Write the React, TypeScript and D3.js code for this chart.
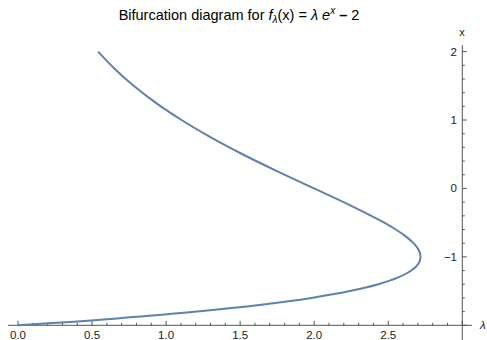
import React from "react";
import * as d3 from "d3";

const xValues = [-2, -1.95, -1.9, -1.8, -1.7, -1.6, -1.5, -1.4, -1.3, -1.2, -1.1, -1, -0.9, -0.8, -0.7, -0.6, -0.5, -0.25, 0, 0.25, 0.5, 0.75, 1, 1.25, 1.5, 1.75, 2];
const lambdaValues = [0, 0.351, 0.669, 1.21, 1.642, 1.981, 2.241, 2.433, 2.568, 2.656, 2.704, 2.718, 2.706, 2.671, 2.618, 2.551, 2.473, 2.247, 2.0, 1.752, 1.516, 1.299, 1.104, 0.931, 0.781, 0.652, 0.541];
const lambdaTicks = [0, 0.5, 1, 1.5, 2, 2.5];
const xTicks = [-1, 0, 1, 2];

const W = 487, H = 340;

export default function App() {
  const sx = d3.scaleLinear().domain([0, 3]).range([18, 462.3]);
  const sy = d3.scaleLinear().domain([-2, 2]).range([325.3, 51.6]);
  const pts = xValues.map((x, i) => [lambdaValues[i], x] as [number, number]);
  const line = d3.line<[number, number]>().x(d => sx(d[0])).y(d => sy(d[1])).curve(d3.curveCatmullRom);
  const minorL = d3.range(0, 3.001, 0.1).map(v => +v.toFixed(2));
  const minorX = d3.range(-2, 2.001, 0.2).map(v => +v.toFixed(2));
  const axisColor = "#555";
  const font = "'Liberation Sans', Arial, sans-serif";
  const ax = sx(3);
  const ay = sy(-2);
  return (
    <svg width={W} height={H} style={{ position: "absolute", left: 0, top: 0 }} fontFamily={font}>
      <text x={239} y={20} textAnchor="middle" fontSize={14.5} fill="#000">
        Bifurcation diagram for <tspan fontStyle="italic">f</tspan>
        <tspan fontStyle="italic" fontSize={10} dy={3}>λ</tspan>
        <tspan dy={-3}>(x) = </tspan>
        <tspan fontStyle="italic">λ e</tspan>
        <tspan fontStyle="italic" fontSize={10} dy={-6}>x</tspan>
        <tspan dy={6}> </tspan>
        <tspan fontWeight="bold">–</tspan>
        <tspan> 2</tspan>
      </text>
      {/* horizontal axis */}
      <line x1={8} x2={472} y1={ay} y2={ay} stroke={axisColor} strokeWidth={1} />
      {minorL.map((v, i) => {
        const major = Math.abs(v * 2 - Math.round(v * 2)) < 1e-6;
        return <line key={"ml" + i} x1={sx(v)} x2={sx(v)} y1={ay} y2={ay - (major ? 4.5 : 2.5)} stroke={axisColor} strokeWidth={1} />;
      })}
      {lambdaTicks.map(v => (
        <text key={"lt" + v} x={sx(v)} y={339} textAnchor="middle" fontSize={11.5} fill="#222">{v.toFixed(1)}</text>
      ))}
      <text x={480} y={329} fontSize={11.5} fontStyle="italic" fill="#222">λ</text>
      {/* vertical axis */}
      <line x1={ax} x2={ax} y1={45} y2={340} stroke={axisColor} strokeWidth={1} />
      {minorX.map((v, i) => {
        const major = Math.abs(v - Math.round(v)) < 1e-6;
        return <line key={"mx" + i} x1={ax} x2={ax + (major ? 4.5 : 2.5)} y1={sy(v)} y2={sy(v)} stroke={axisColor} strokeWidth={1} />;
      })}
      {xTicks.map(v => (
        <text key={"xt" + v} x={457} y={sy(v) + 4} textAnchor="end" fontSize={11.5} fill="#222">{v < 0 ? "−" + Math.abs(v) : v}</text>
      ))}
      <text x={462} y={36} textAnchor="middle" fontSize={11} fill="#222">x</text>
      <path d={line(pts) || ""} fill="none" stroke="#5E81B5" strokeWidth={2} />
    </svg>
  );
}
